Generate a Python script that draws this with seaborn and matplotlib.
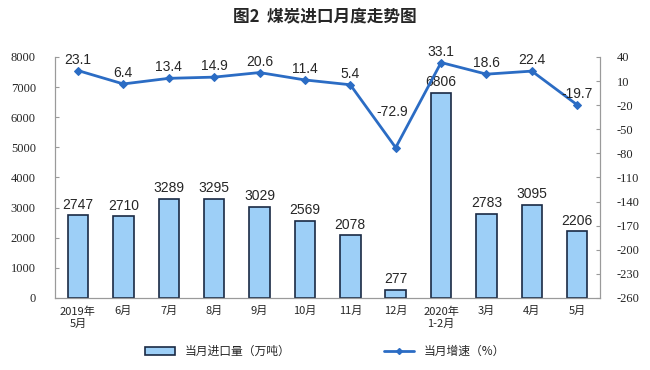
import matplotlib
matplotlib.use("Agg")
import matplotlib.pyplot as plt
from matplotlib.patches import Patch
from matplotlib.lines import Line2D
import numpy as np
import pandas as pd
import seaborn as sns

months = ["2019年\n5月", "6月", "7月", "8月", "9月", "10月", "11月", "12月",
          "2020年\n1-2月", "3月", "4月", "5月"]
imports = [2747, 2710, 3289, 3295, 3029, 2569, 2078, 277, 6806, 2783, 3095, 2206]
growth = [23.1, 6.4, 13.4, 14.9, 20.6, 11.4, 5.4, -72.9, 33.1, 18.6, 22.4, -19.7]

sns.set_style("white")
plt.rcParams["font.family"] = ["Noto Sans CJK SC", "DejaVu Sans"]

BAR = "#9dcff7"
EDGE = "#1a2a44"
LINE = "#2b6cc4"
GRID = "#9a9a9a"

df = pd.DataFrame({"month": months, "imports": imports, "growth": growth})

fig = plt.figure(figsize=(6.5, 3.7), dpi=100)
ax = fig.add_axes([0.085, 0.195, 0.838, 0.651])

sns.barplot(data=df, x="month", y="imports", color=BAR, edgecolor=EDGE,
            linewidth=1.2, width=0.45, saturation=1, ax=ax)
ax.set_ylim(0, 8000)
ax.set_xlim(-0.5, len(months) - 0.5)
ax.set_xlabel("")
ax.set_ylabel("")
for i, v in enumerate(imports):
    ax.text(i, v + 120, str(v), ha="center", va="bottom", fontsize=10,
            family="Liberation Sans")

ax2 = ax.twinx()
sns.lineplot(x=np.arange(len(months)), y=growth, color=LINE, marker="D",
             markersize=4, markeredgecolor=LINE, linewidth=2, ax=ax2)
ax2.set_ylim(-260, 40)
for i, v in enumerate(growth):
    dy, dx = (36, -0.08) if v < -50 else (5, 0)
    ax2.text(i + dx, v + dy, f"{v}", ha="center", va="bottom", fontsize=10,
             family="Liberation Sans")

for a in (ax, ax2):
    for s in a.spines.values():
        s.set_color(GRID)
        s.set_linewidth(0.8)
    a.spines["top"].set_visible(False)
    a.tick_params(axis="y", length=3, color=GRID, direction="in")

ax.tick_params(axis="y", pad=14)
ax2.tick_params(axis="y", pad=12)
ax.set_yticks(range(0, 8001, 1000))
ax.set_yticklabels([str(t) for t in range(0, 8001, 1000)],
                   fontfamily="Liberation Serif", fontsize=9)
ax2.set_yticks(range(-260, 41, 30))
ax2.set_yticklabels([str(t) for t in range(-260, 41, 30)],
                    fontfamily="Liberation Serif", fontsize=9)

ax.set_xticks(np.arange(len(months)))
ax.set_xticklabels(months, fontsize=8, linespacing=1.3)
ax.set_xticks(np.arange(len(months) - 1) + 0.5, minor=True)
ax.tick_params(axis="x", which="major", length=0, pad=6)
ax.tick_params(axis="x", which="minor", length=3, direction="in", color=GRID)

fig.text(0.5, 0.955, "图2  煤炭进口月度走势图", ha="center", va="center",
         fontsize=12, fontweight="bold")

handles = [Patch(facecolor=BAR, edgecolor=EDGE, linewidth=1.2),
           Line2D([0], [0], color=LINE, marker="D", markersize=3, linewidth=2)]
fig.legend(handles, ["当月进口量（万吨）", "当月增速（%）"], loc="center",
           bbox_to_anchor=(0.5, 0.05), ncol=2, frameon=False, fontsize=8.5,
           columnspacing=8, handlelength=2.5)

fig.savefig("out.png", dpi=100)
